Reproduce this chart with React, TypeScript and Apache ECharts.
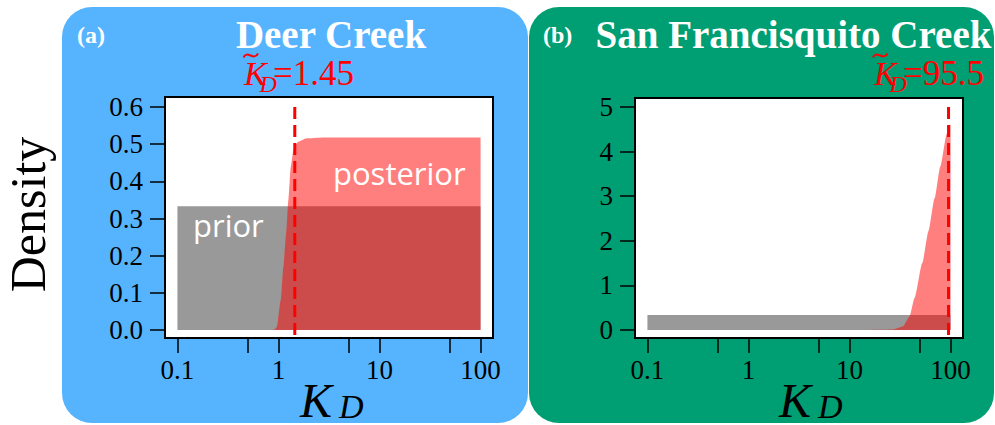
import React, { useEffect, useRef } from 'react';
import * as echarts from 'echarts';

// ---------- data ----------
const kTickValues = [0.1, 1, 10, 100];
const kTickLabels = ['0.1', '1', '10', '100'];
const kMinorTicks = [0.5, 5, 50];

const densityTicksA = [0, 0.1, 0.2, 0.3, 0.4, 0.5, 0.6];
const densityTicksB = [0, 1, 2, 3, 4, 5];

const priorK = [0.1, 100];
const priorDensity = [0.333, 0.333];

const postAK = [0.1, 0.8, 0.886, 0.922, 0.964, 1.054, 1.119, 1.191, 1.253, 1.324, 1.406, 1.479, 1.574, 1.905, 3, 10, 100];
const postADensity = [0, 0, 0, 0.002, 0.009, 0.081, 0.17, 0.26, 0.35, 0.44, 0.484, 0.498, 0.507, 0.516, 0.518, 0.518, 0.518];

const postBK = [0.1, 10, 15.8, 20, 26.9, 33.7, 39.3, 44.1, 52.5, 60.5, 69.5, 79.1, 91.8, 100];
const postBDensity = [0, 0, 0, 0.003, 0.01, 0.075, 0.3, 0.72, 1.5, 2.22, 2.95, 3.66, 4.4, 4.62];

const kHatA = 1.45;
const kHatB = 95.5;
const kHatLabelA = '=1.45';
const kHatLabelB = '=95.5';
const titleA = 'Deer Creek';
const titleB = 'San Francisquito Creek';

// ---------- helpers ----------
const SERIF = 'Liberation Serif';
const SANS = 'Open Sans';
const lg = (v: number) => Math.log10(v);
const toPairs = (ks: number[], ds: number[]) => ks.map((k, i) => [lg(k), ds[i]]);

const xLabelFormatter = (v: number) => {
  for (let i = 0; i < kTickValues.length; i++) {
    if (Math.abs(lg(kTickValues[i]) - v) < 1e-6) return kTickLabels[i];
  }
  return '';
};

function makeXAxis(gridIndex: number) {
  return {
    type: 'value',
    gridIndex,
    min: -1.123,
    max: 2.123,
    axisLine: { show: false, onZero: false },
    splitLine: { show: false },
    axisTick: {
      show: true,
      length: 15,
      customValues: [...kTickValues, ...kMinorTicks].map(lg),
      lineStyle: { color: '#000', width: 1.5 },
    },
    axisLabel: {
      customValues: kTickValues.map(lg),
      formatter: xLabelFormatter,
      color: '#000',
      fontFamily: SERIF,
      fontSize: 27,
      margin: 18,
    },
  };
}

function makeYAxis(gridIndex: number, min: number, max: number, ticks: number[], fmt: (v: number) => string) {
  return {
    type: 'value',
    gridIndex,
    min,
    max,
    axisLine: { show: false, onZero: false },
    splitLine: { show: false },
    axisTick: {
      show: true,
      length: 15,
      customValues: ticks,
      lineStyle: { color: '#000', width: 1.5 },
    },
    axisLabel: {
      customValues: ticks,
      formatter: fmt,
      color: '#000',
      fontFamily: SERIF,
      fontSize: 27,
      margin: 22,
    },
  };
}

function txt(text: string, x: number, y: number, opts: any = {}) {
  return {
    type: 'text',
    x,
    y,
    z: 100,
    rotation: opts.rotation || 0,
    style: {
      text,
      fill: opts.fill || '#000',
      fontSize: opts.fontSize || 20,
      fontFamily: opts.fontFamily || SERIF,
      fontWeight: opts.fontWeight || 'normal',
      fontStyle: opts.fontStyle || 'normal',
      align: opts.align || 'left',
      verticalAlign: opts.verticalAlign || 'middle',
    },
  };
}

// K-hat_D = value, drawn as one rich text (subscript via padding)
function kHatText(value: string, x: number, color: string) {
  return {
    type: 'text',
    x,
    y: 73,
    z: 100,
    style: {
      text: `{k|K}{d|D}{n|${value}}`,
      fill: color,
      fontFamily: SERIF,
      align: 'left',
      verticalAlign: 'middle',
      rich: {
        k: { fontSize: 34, fontStyle: 'italic', fontFamily: SERIF, fill: color, width: 15.5 },
        d: { fontSize: 24, fontStyle: 'italic', fontFamily: SERIF, fill: color, width: 13.5, padding: [21, 0, 0, 0] },
        n: { fontSize: 35, fontFamily: SERIF, fill: color },
      },
    },
  };
}

function axisTitle(x: number) {
  return {
    type: 'text',
    x,
    y: 400,
    z: 100,
    style: {
      text: '{k|K}{d|D}',
      fill: '#000',
      fontFamily: SERIF,
      align: 'left',
      verticalAlign: 'middle',
      rich: {
        k: { fontSize: 48, fontStyle: 'italic', fontFamily: SERIF, fill: '#000', width: 39 },
        d: { fontSize: 34, fontStyle: 'italic', fontFamily: SERIF, fill: '#000', padding: [12, 0, 0, 0] },
      },
    },
  };
}

function tilde(x0: number, color: string) {
  return {
    type: 'bezierCurve',
    z: 100,
    shape: { x1: x0, y1: 57.5, x2: x0 + 14.5, y2: 53.5, cpx1: x0 + 3.5, cpy1: 49.5, cpx2: x0 + 10.5, cpy2: 61.5 },
    style: { stroke: color, lineWidth: 2, fill: null },
  };
}

export default function App() {
  const ref = useRef<HTMLDivElement>(null);

  useEffect(() => {
    document.body.style.margin = '0';
    if (!ref.current) return;
    const chart = echarts.init(ref.current, undefined, { renderer: 'svg' });

    const red = '#ff0000';
    const option: any = {
      animation: false,
      grid: [
        { left: 165, top: 97, width: 328, height: 241, show: true, backgroundColor: '#fff', borderColor: '#000', borderWidth: 2 },
        { left: 635, top: 98, width: 328, height: 240, show: true, backgroundColor: '#fff', borderColor: '#000', borderWidth: 2 },
      ],
      xAxis: [makeXAxis(0), makeXAxis(1)],
      yAxis: [
        makeYAxis(0, -0.0215, 0.627, densityTicksA, (v: number) => v.toFixed(1)),
        makeYAxis(1, -0.18, 5.2, densityTicksB, (v: number) => String(Math.round(v))),
      ],
      series: [
        {
          type: 'line', xAxisIndex: 0, yAxisIndex: 0, z: 2,
          data: toPairs(priorK, priorDensity), symbol: 'none',
          lineStyle: { width: 0, opacity: 0 },
          areaStyle: { color: '#999999', opacity: 1 },
        },
        {
          type: 'line', xAxisIndex: 0, yAxisIndex: 0, z: 3,
          data: toPairs(postAK, postADensity), symbol: 'none', smooth: 0.2, smoothMonotone: 'x',
          lineStyle: { width: 0, opacity: 0 },
          areaStyle: { color: 'rgba(255,0,0,0.5)', opacity: 1 },
        },
        {
          type: 'line', xAxisIndex: 0, yAxisIndex: 0, z: 4, clip: false,
          data: [[lg(kHatA), 0.6], [lg(kHatA), -0.027]], symbol: 'none',
          lineStyle: { color: red, width: 3, type: [12, 6] },
        },
        {
          type: 'line', xAxisIndex: 1, yAxisIndex: 1, z: 2,
          data: toPairs(priorK, priorDensity), symbol: 'none',
          lineStyle: { width: 0, opacity: 0 },
          areaStyle: { color: '#999999', opacity: 1 },
        },
        {
          type: 'line', xAxisIndex: 1, yAxisIndex: 1, z: 3,
          data: toPairs(postBK, postBDensity), symbol: 'none', smooth: 0.2, smoothMonotone: 'x',
          lineStyle: { width: 0, opacity: 0 },
          areaStyle: { color: 'rgba(255,0,0,0.5)', opacity: 1 },
        },
        {
          type: 'line', xAxisIndex: 1, yAxisIndex: 1, z: 4, clip: false,
          data: [[lg(kHatB), 5], [lg(kHatB), -0.224]], symbol: 'none',
          lineStyle: { color: red, width: 3, type: [12, 6] },
        },
      ],
      graphic: [
        { type: 'rect', z: -10, shape: { x: 62, y: 7, width: 466, height: 416, r: 30 }, style: { fill: '#56B4FF' } },
        { type: 'rect', z: -10, shape: { x: 529, y: 7, width: 465, height: 416, r: 30 }, style: { fill: '#009E73' } },

        txt('(a)', 77, 35, { fill: '#fff', fontSize: 24, fontWeight: 'bold' }),
        txt(titleA, 331, 34.5, { fill: '#fff', fontSize: 39, fontWeight: 'bold', align: 'center' }),
        txt('(b)', 543, 35, { fill: '#fff', fontSize: 24, fontWeight: 'bold' }),
        txt(titleB, 793.5, 34.5, { fill: '#fff', fontSize: 39, fontWeight: 'bold', align: 'center' }),

        tilde(243.5, red),
        kHatText(kHatLabelA, 244, red),
        tilde(873, red),
        kHatText(kHatLabelB, 874, red),

        axisTitle(300),
        axisTitle(779),

        txt('Density', 28, 214.5, { fontSize: 50, align: 'center', rotation: Math.PI / 2 }),

        txt('prior', 193, 225, { fill: '#fff', fontSize: 31, fontFamily: SANS }),
        txt('posterior', 333, 173, { fill: '#fff', fontSize: 31, fontFamily: SANS }),
      ],
    };

    chart.setOption(option);
    return () => chart.dispose();
  }, []);

  return <div ref={ref} style={{ width: 995, height: 425 }} />;
}
